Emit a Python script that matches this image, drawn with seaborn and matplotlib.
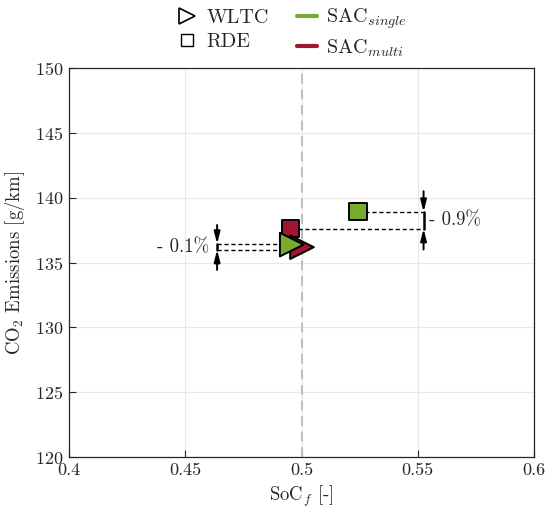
import matplotlib
matplotlib.use("Agg")
import matplotlib.pyplot as plt
import seaborn as sns
import pandas as pd
from matplotlib.lines import Line2D

# ---- data ----
cycles = ["RDE", "WLTC", "WLTC", "RDE"]
strategies = ["SAC_multi", "SAC_multi", "SAC_single", "SAC_single"]
soc_f = [0.4953, 0.5002, 0.4958, 0.5243]
co2 = [137.6, 136.18, 136.38, 138.9]

x_ticks = [0.4, 0.45, 0.5, 0.55, 0.6]
x_tick_labels = ["0.4", "0.45", "0.5", "0.55", "0.6"]
y_ticks = [120, 125, 130, 135, 140, 145, 150]

# annotation values
ann_left_x = 0.4637
ann_left_y = [136.44, 135.98]
ann_left_text = "- 0.1%"
ann_right_x = 0.5525
ann_right_text = "- 0.9%"

colors = {"SAC_single": "#77AC30", "SAC_multi": "#A2142F"}

sns.set_style("white")
plt.rcParams["font.family"] = ["cmr10", "DejaVu Serif"]
plt.rcParams["mathtext.fontset"] = "cm"
plt.rcParams["axes.formatter.use_mathtext"] = True

df = pd.DataFrame({"cycle": cycles, "strategy": strategies, "soc": soc_f, "co2": co2})

fig = plt.figure(figsize=(5.47, 5.13), dpi=100)
ax = fig.add_axes([69 / 547, 1 - 457 / 513, (534 - 69) / 547, (457 - 68) / 513])

ax.set_xlim(0.4, 0.6)
ax.set_ylim(120, 150)
ax.set_xticks(x_ticks)
ax.set_xticklabels(x_tick_labels)
ax.set_yticks(y_ticks)
ax.grid(True, color="#e8e8e8", lw=0.8, zorder=0)
ax.set_axisbelow(True)
for s in ax.spines.values():
    s.set_visible(True)
    s.set_color("#262626")
    s.set_linewidth(0.9)
ax.tick_params(direction="in", length=5, width=0.8, labelsize=13, color="#262626",
               pad=4, bottom=True, left=True, top=False, right=False)

# reference line at SoC 0.5
ax.axvline(0.5, color="#bdbdbd", lw=1.4, ls=(0, (5, 3)), zorder=1)

# annotation dashed lines (left: WLTC)
wltc = df[df.cycle == "WLTC"].reset_index(drop=True)
rde = df[df.cycle == "RDE"].reset_index(drop=True)
for xm, yl in zip([wltc.soc[1], wltc.soc[0]], ann_left_y):
    ax.plot([ann_left_x, xm], [yl, yl], color="black", lw=1, ls=(0, (3, 2)), zorder=2)
for _, r in rde.iterrows():
    ax.plot([r.soc, ann_right_x], [r.co2, r.co2], color="black", lw=1, ls=(0, (3, 2)), zorder=2)

# vertical solid bars
ax.plot([ann_left_x, ann_left_x], ann_left_y, color="black", lw=1.8, zorder=2)
ax.plot([ann_right_x, ann_right_x], [rde.co2.min(), rde.co2.max()], color="black", lw=1.8, zorder=2)

arrow_kw = dict(arrowstyle="-|>,head_length=0.7,head_width=0.18", color="black", lw=1.4,
                shrinkA=0, shrinkB=0)
ax.annotate("", xy=(ann_left_x, max(ann_left_y)), xytext=(ann_left_x, max(ann_left_y) + 1.45),
            arrowprops=arrow_kw)
ax.annotate("", xy=(ann_left_x, min(ann_left_y)), xytext=(ann_left_x, min(ann_left_y) - 1.55),
            arrowprops=arrow_kw)
ax.annotate("", xy=(ann_right_x, rde.co2.max()), xytext=(ann_right_x, rde.co2.max() + 1.6),
            arrowprops=arrow_kw)
ax.annotate("", xy=(ann_right_x, rde.co2.min()), xytext=(ann_right_x, rde.co2.min() - 1.6),
            arrowprops=arrow_kw)

ax.text(ann_left_x - 0.0035, sum(ann_left_y) / 2, ann_left_text, ha="right", va="center",
        fontsize=13.5)
ax.text(ann_right_x + 0.0022, (rde.co2.min() + rde.co2.max()) / 2, ann_right_text,
        ha="left", va="center", fontsize=13.5)

# markers
sns.scatterplot(data=df, x="soc", y="co2", hue="strategy", style="cycle", size="cycle",
                markers={"WLTC": ">", "RDE": "s"}, sizes={"WLTC": 290, "RDE": 150},
                palette=colors, edgecolor="black", linewidth=1.4, legend=False,
                ax=ax, zorder=4)

ax.set_xlabel(r"SoC$_f$ [-]", fontsize=13.5, labelpad=4)
ax.set_ylabel(r"CO$_2$ Emissions [g/km]", fontsize=13.5, labelpad=6)

handles = [
    Line2D([], [], ls="none", marker=">", markersize=11.5, markerfacecolor="white",
           markeredgecolor="black", markeredgewidth=1.2),
    Line2D([], [], ls="none", marker="s", markersize=9, markerfacecolor="white",
           markeredgecolor="black", markeredgewidth=1.0),
    Line2D([], [], color=colors["SAC_single"], lw=3),
    Line2D([], [], color=colors["SAC_multi"], lw=3),
]
labels = ["WLTC", "RDE", r"SAC$_{single}$", r"SAC$_{multi}$"]
ax.legend(handles, labels, loc="lower center", bbox_to_anchor=(0.48, 1.0), ncol=2,
          frameon=False, fontsize=14.5, handlelength=1.0, handletextpad=0.45,
          columnspacing=1.4, labelspacing=0.3, borderaxespad=0.05)

fig.savefig("out.png", dpi=100)
